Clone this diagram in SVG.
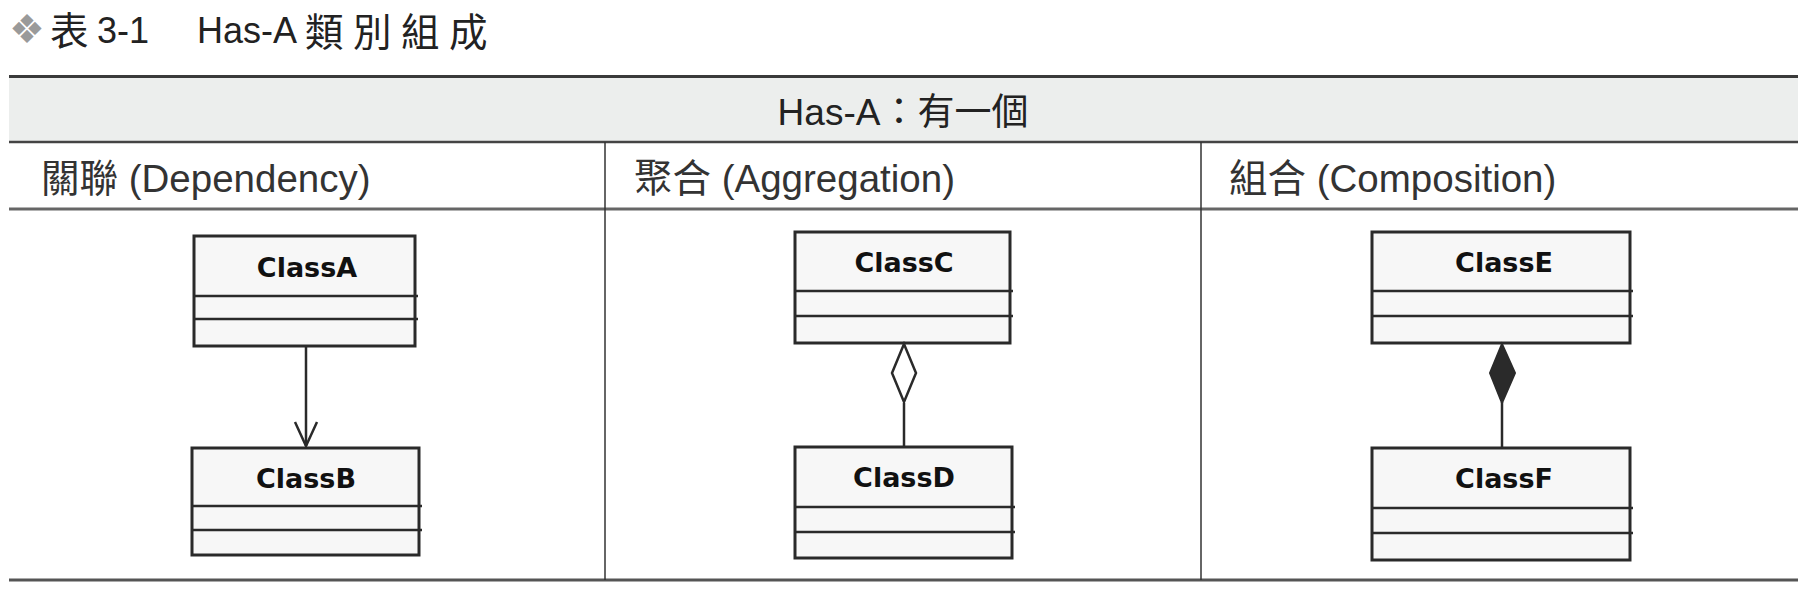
<svg xmlns="http://www.w3.org/2000/svg" width="1818" height="604" viewBox="0 0 1818 604">
<style>
  .title { font-family: "Liberation Sans", "Noto Sans CJK TC", sans-serif; font-size: 36px; fill: #222; }
  .tcjk { font-family: "Noto Sans CJK TC", sans-serif; font-size: 38.5px; letter-spacing: 9.5px; }
  .bullet { font-family: "DejaVu Sans", sans-serif; font-size: 40px; fill: #9a9a9a; }
  .hdr { font-family: "Liberation Sans", "Noto Sans CJK TC", sans-serif; font-size: 37px; fill: #222; }
  .sub { font-family: "Liberation Sans", "Noto Sans CJK TC", sans-serif; font-size: 38.5px; fill: #333; }
  .box { fill: #f7f7f7; stroke: #2a2a2a; stroke-width: 3; }
  .sep { stroke: #2a2a2a; stroke-width: 2.5; }
  .cname { font-family: "DejaVu Sans", "Liberation Sans", sans-serif; font-weight: bold; font-size: 27px; fill: #111; text-anchor: middle; }
  .conn { stroke: #2a2a2a; stroke-width: 2.5; fill: none; }
</style>

<g id="title">
  <text class="bullet" x="9" y="43">❖</text>
  <text class="title" x="50" y="45"><tspan class="tcjk" letter-spacing="0" font-size="37">表</tspan><tspan x="97" y="43">3-1</tspan></text>
  <text class="title" x="197" y="43">Has-A<tspan class="tcjk" x="305" y="45.5">類別組成</tspan></text>
</g>

<g id="table">
  <rect x="9" y="77" width="1789" height="65" fill="#eceeed"/>
  <line x1="9" y1="76.5" x2="1798" y2="76.5" stroke="#3a3a3a" stroke-width="3"/>
  <line x1="9" y1="142" x2="1798" y2="142" stroke="#444" stroke-width="2.5"/>
  <line x1="9" y1="209" x2="1798" y2="209" stroke="#666" stroke-width="3"/>
  <line x1="9" y1="580" x2="1798" y2="580" stroke="#555" stroke-width="3"/>
  <line x1="605" y1="142" x2="605" y2="580" stroke="#333" stroke-width="1.5"/>
  <line x1="1201" y1="142" x2="1201" y2="580" stroke="#333" stroke-width="1.5"/>
  <text class="hdr" x="903" y="125" text-anchor="middle">Has-A：有一個</text>
  <text class="sub" x="41" y="192">關聯 (Dependency)</text>
  <text class="sub" x="634" y="192">聚合 (Aggregation)</text>
  <text class="sub" x="1229" y="192">組合 (Composition)</text>
</g>

<g id="ClassA">
  <rect class="box" x="194" y="236" width="221" height="110"/>
  <line class="sep" x1="194" y1="296" x2="418" y2="296"/>
  <line class="sep" x1="194" y1="319" x2="418" y2="319"/>
  <text class="cname" x="307" y="277">ClassA</text>
</g>
<g id="ClassB">
  <rect class="box" x="192" y="448" width="227" height="107"/>
  <line class="sep" x1="192" y1="506" x2="422" y2="506"/>
  <line class="sep" x1="192" y1="530" x2="422" y2="530"/>
  <text class="cname" x="306" y="488">ClassB</text>
</g>
<g id="ClassC">
  <rect class="box" x="795" y="232" width="215" height="111"/>
  <line class="sep" x1="795" y1="291" x2="1013" y2="291"/>
  <line class="sep" x1="795" y1="316" x2="1013" y2="316"/>
  <text class="cname" x="904" y="272">ClassC</text>
</g>
<g id="ClassD">
  <rect class="box" x="795" y="447" width="217" height="111"/>
  <line class="sep" x1="795" y1="507" x2="1015" y2="507"/>
  <line class="sep" x1="795" y1="532" x2="1015" y2="532"/>
  <text class="cname" x="904" y="487">ClassD</text>
</g>
<g id="ClassE">
  <rect class="box" x="1372" y="232" width="258" height="111"/>
  <line class="sep" x1="1372" y1="291" x2="1633" y2="291"/>
  <line class="sep" x1="1372" y1="316" x2="1633" y2="316"/>
  <text class="cname" x="1504" y="272">ClassE</text>
</g>
<g id="ClassF">
  <rect class="box" x="1372" y="448" width="258" height="112"/>
  <line class="sep" x1="1372" y1="508" x2="1633" y2="508"/>
  <line class="sep" x1="1372" y1="533" x2="1633" y2="533"/>
  <text class="cname" x="1504" y="488">ClassF</text>
</g>

<g id="connectors">
  <line class="conn" x1="306" y1="347" x2="306" y2="446"/>
  <polyline class="conn" points="295,422 306,446 317,422"/>
  <line class="conn" x1="904" y1="403" x2="904" y2="447"/>
  <polygon points="904,344 892,373 904,402 916,373" fill="#fff" stroke="#2a2a2a" stroke-width="2.5"/>
  <line class="conn" x1="1502" y1="402" x2="1502" y2="448"/>
  <polygon points="1502,344 1490,373 1502,403 1515,373" fill="#2a2a2a" stroke="#2a2a2a" stroke-width="2"/>
</g>
</svg>
